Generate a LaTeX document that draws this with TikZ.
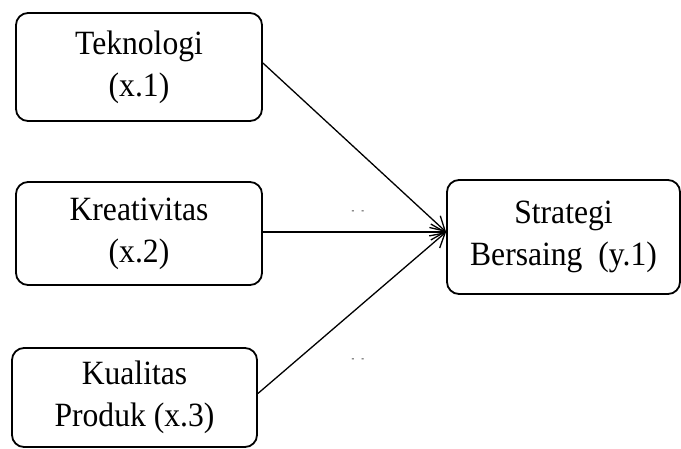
\documentclass[tikz,border=0pt]{standalone}
\usepackage{fontspec}
\setmainfont{Liberation Serif}[FakeStretch=0.93]
\usepackage{tikz}
\usetikzlibrary{positioning,arrows.meta}

\begin{document}
\begin{tikzpicture}[x=1pt,y=1pt,
  var/.style={draw,rounded corners=12pt,line width=1.8pt,inner sep=0pt,align=center,font=\fontsize{34}{42}\selectfont},
  link/.style={line width=1.3pt,-{Straight Barb[length=14pt,width=16pt,line width=1.3pt]}},
  mark dots/.style={inner sep=0pt,font=\fontsize{9}{9}\selectfont}]

\useasboundingbox (0,0) rectangle (681,-448);

\node[var,minimum width=246pt,minimum height=108pt] (tek) at (139,-67) { Teknologi \\ (x.1) } ;
\node[var,minimum width=246pt,minimum height=103pt] (kre) at (139,-233.5) { Kreativitas \\ (x.2) } ;
\node[var,minimum width=245pt,minimum height=99pt] (kua) at (134.5,-397.5) { Kualitas \\ Produk (x.3) } ;
\node[var,minimum width=233pt,minimum height=114pt] (str) at (563.5,-237) { Strategi \\ Bersaing\ \ (y.1) } ;

\node[mark dots] (d1) at (358,-212) { -\hspace{7pt}- } ;
\node[mark dots] (d2) at (358,-360) { -\hspace{7pt}- } ;

\coordinate (tip) at ([yshift=5pt]str.west) ;

\draw[link] ([yshift=4pt]tek.east) -- (tip) ;
\draw[link] ([yshift=1.5pt]kre.east) -- (tip) ;
\draw[link] ([yshift=4pt]kua.east) -- (tip) ;

\end{tikzpicture}
\end{document}
